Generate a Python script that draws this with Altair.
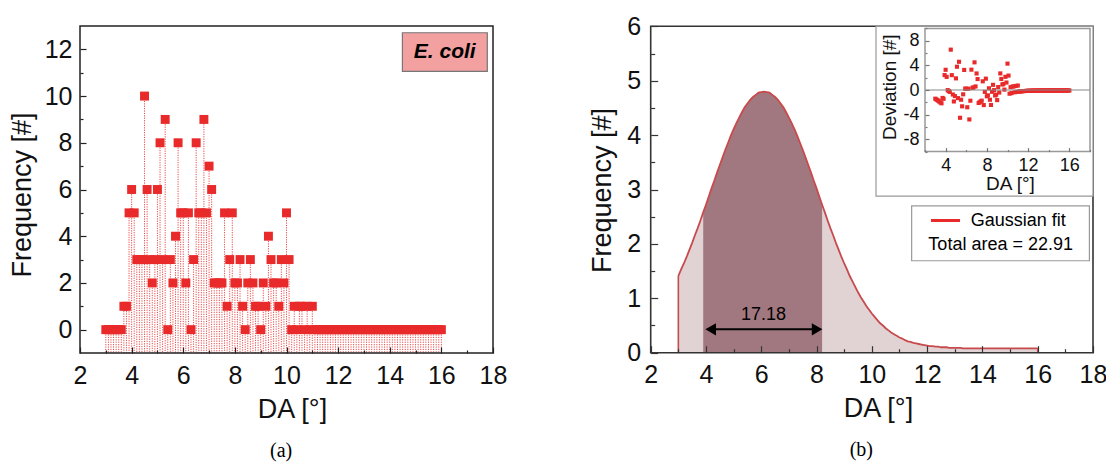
import altair as alt
import pandas as pd

# ---------------- data ----------------
DA = [
    3.0, 3.1, 3.2, 3.3, 3.4, 3.5, 3.6, 3.7, 3.8, 3.9,
    4.0, 4.1, 4.2, 4.3, 4.4, 4.5, 4.6, 4.7, 4.8, 4.9,
    5.0, 5.1, 5.2, 5.3, 5.4, 5.5, 5.6, 5.7, 5.8, 5.9,
    6.0, 6.1, 6.2, 6.3, 6.4, 6.5, 6.6, 6.7, 6.8, 6.9,
    7.0, 7.1, 7.2, 7.3, 7.4, 7.5, 7.6, 7.7, 7.8, 7.9,
    8.0, 8.1, 8.2, 8.3, 8.4, 8.5, 8.6, 8.7, 8.8, 8.9,
    9.0, 9.1, 9.2, 9.3, 9.4, 9.5, 9.6, 9.7, 9.8, 9.9,
    10.0, 10.1, 10.2, 10.3, 10.4, 10.5, 10.6, 10.7, 10.8, 10.9,
    11.0, 11.1, 11.2, 11.3, 11.4, 11.5, 11.6, 11.7, 11.8, 11.9,
    12.0, 12.1, 12.2, 12.3, 12.4, 12.5, 12.6, 12.7, 12.8, 12.9,
    13.0, 13.1, 13.2, 13.3, 13.4, 13.5, 13.6, 13.7, 13.8, 13.9,
    14.0, 14.1, 14.2, 14.3, 14.4, 14.5, 14.6, 14.7, 14.8, 14.9,
    15.0, 15.1, 15.2, 15.3, 15.4, 15.5, 15.6, 15.7, 15.8, 15.9,
    16.0,
]
COUNTS = [
    0, 0, 0, 0, 0, 0, 0, 1, 1, 5,
    6, 5, 3, 3, 3, 10, 6, 3, 2, 3,
    6, 8, 3, 9, 0, 3, 2, 4, 8, 5,
    5, 2, 5, 0, 3, 8, 5, 5, 9, 5,
    7, 6, 2, 2, 2, 2, 5, 1, 3, 5,
    2, 2, 3, 1, 0, 2, 3, 2, 1, 1,
    0, 2, 1, 4, 3, 2, 2, 1, 3, 2,
    5, 3, 0, 1, 0, 1, 1, 0, 1, 0,
    1, 0, 0, 0, 0, 0, 0, 0, 0, 0,
    0, 0, 0, 0, 0, 0, 0, 0, 0, 0,
    0, 0, 0, 0, 0, 0, 0, 0, 0, 0,
    0, 0, 0, 0, 0, 0, 0, 0, 0, 0,
    0, 0, 0, 0, 0, 0, 0, 0, 0, 0,
    0,
]
FIT = [
    1.41, 1.53, 1.64, 1.76, 1.89, 2.02, 2.16, 2.29, 2.43, 2.58,
    2.72, 2.87, 3.02, 3.16, 3.31, 3.45, 3.59, 3.73, 3.86, 3.99,
    4.11, 4.22, 4.32, 4.42, 4.51, 4.58, 4.65, 4.70, 4.74, 4.78,
    4.79, 4.80, 4.79, 4.78, 4.74, 4.70, 4.65, 4.58, 4.51, 4.42,
    4.32, 4.22, 4.11, 3.99, 3.86, 3.73, 3.59, 3.45, 3.31, 3.16,
    3.02, 2.87, 2.72, 2.58, 2.43, 2.29, 2.16, 2.02, 1.89, 1.76,
    1.64, 1.53, 1.41, 1.31, 1.21, 1.11, 1.02, 0.94, 0.86, 0.79,
    0.72, 0.66, 0.60, 0.54, 0.50, 0.45, 0.41, 0.37, 0.34, 0.31,
    0.28, 0.26, 0.23, 0.21, 0.20, 0.18, 0.17, 0.16, 0.15, 0.14,
    0.13, 0.12, 0.12, 0.11, 0.11, 0.10, 0.10, 0.10, 0.09, 0.09,
    0.09, 0.09, 0.09, 0.08, 0.08, 0.08, 0.08, 0.08, 0.08, 0.08,
    0.08, 0.08, 0.08, 0.08, 0.08, 0.08, 0.08, 0.08, 0.08, 0.08,
    0.08, 0.08, 0.08, 0.08, 0.08, 0.08, 0.08, 0.08, 0.08, 0.08,
    0.08,
]
DEVIATION = [
    -1.41, -1.53, -1.64, -1.76, -1.89, -2.02, -2.16, -1.29, -1.43, 2.42,
    3.28, 2.13, -0.02, -0.16, -0.31, 6.55, 2.41, -0.73, -1.86, -0.99,
    1.89, 3.78, -1.32, 4.58, -4.51, -1.58, -2.65, -0.70, 3.26, 0.22,
    0.21, -2.80, 0.21, -4.78, -1.74, 3.30, 0.35, 0.42, 4.49, 0.58,
    2.68, 1.78, -2.11, -1.99, -1.86, -1.73, 1.41, -2.45, -0.31, 1.84,
    -1.02, -0.87, 0.28, -1.58, -2.43, -0.29, 0.84, -0.02, -0.89, -0.76,
    -1.64, 0.47, -0.41, 2.69, 1.79, 0.89, 0.98, 0.06, 2.14, 1.21,
    4.28, 2.34, -0.60, 0.46, -0.50, 0.55, 0.59, -0.37, 0.66, -0.31,
    0.72, -0.26, -0.23, -0.21, -0.20, -0.18, -0.17, -0.16, -0.15, -0.14,
    -0.13, -0.12, -0.12, -0.11, -0.11, -0.10, -0.10, -0.10, -0.09, -0.09,
    -0.09, -0.09, -0.09, -0.08, -0.08, -0.08, -0.08, -0.08, -0.08, -0.08,
    -0.08, -0.08, -0.08, -0.08, -0.08, -0.08, -0.08, -0.08, -0.08, -0.08,
    -0.08, -0.08, -0.08, -0.08, -0.08, -0.08, -0.08, -0.08, -0.08, -0.08,
    -0.08,
]
HIGHLIGHT_FROM, HIGHLIGHT_TO = 3.9, 8.2       # darker shaded band
ARROW_FROM, ARROW_TO, ARROW_Y = 3.95, 8.24, 0.43
BAND_AREA_LABEL = "17.18"
LEGEND_LINES = ["Gaussian fit", "Total area = 22.91"]

X_TICKS = [2, 4, 6, 8, 10, 12, 14, 16, 18]
X_MINOR = list(range(2, 19))
YA_TICKS = [0, 2, 4, 6, 8, 10, 12]
YA_MINOR = list(range(0, 13))
YB_TICKS = [0, 1, 2, 3, 4, 5, 6]
YB_MINOR = [0, 0.5, 1, 1.5, 2, 2.5, 3, 3.5, 4, 4.5, 5, 5.5, 6]
XI_TICKS = [4, 8, 12, 16]
XI_MINOR = [2, 4, 6, 8, 10, 12, 14, 16, 18]
YI_TICKS = [-8, -4, 0, 4, 8]
YI_MINOR = [-10, -8, -6, -4, -2, 0, 2, 4, 6, 8, 10]

df_a = pd.DataFrame({"DA": DA, "count": COUNTS})
df_b = pd.DataFrame({"DA": DA, "fit": FIT})
df_dark = df_b[(df_b["DA"] >= HIGHLIGHT_FROM) & (df_b["DA"] <= HIGHLIGHT_TO + 1e-9)]
df_edges = df_b[df_b["DA"].isin([DA[0], DA[-1]])]
df_dev = pd.DataFrame({"DA": DA, "dev": DEVIATION})
one = pd.DataFrame({"k": [0]})

# ---------------- layout (pixels inside the plot area) ----------------
W, H = 1098, 460
FONT = "Liberation Sans"
RED = "#e92a2a"

def sc(domain, rng):
    return alt.Scale(domain=domain, range=rng, nice=False, zero=False)

XA = lambda: sc([2, 18], [72, 485])
YA = lambda: sc([-1, 13], [345, 18])
XB = lambda: sc([2, 18], [642.7, 1085])
YB = lambda: sc([0, 6], [344.7, 18.3])
XI = lambda: sc([2, 18], [917, 1082])
YI = lambda: sc([-10, 10], [143.6, 20.4])


def ax_bottom(line_y, values, title, tx, ty, lfs, tfs, lpad):
    return alt.Axis(orient="bottom", offset=line_y - H, values=values, ticks=False, tickSize=0,
                    domain=False, grid=False, labelFontSize=lfs, labelPadding=lpad,
                    labelBaseline="alphabetic", labelFlush=False, labelOverlap=False,
                    labelExpr="datum.value + ''", title=title, titleX=tx, titleY=ty,
                    titleAlign="center", titleBaseline="alphabetic", titleFontSize=tfs,
                    titleFontWeight="normal", zindex=4)


def ax_left(line_x, values, title, tx, ty, lfs, tfs, lpad):
    return alt.Axis(orient="left", offset=-line_x, values=values, ticks=False, tickSize=0,
                    domain=False, grid=False, labelFontSize=lfs, labelPadding=lpad,
                    labelAlign="right", labelBaseline="middle", labelFlush=False,
                    labelOverlap=False, labelExpr="datum.value + ''", title=title,
                    titleAngle=270, titleX=tx, titleY=ty, titleAlign="center",
                    titleBaseline="alphabetic", titleFontSize=tfs, titleFontWeight="normal",
                    zindex=4)


def ax_ticks_x(line_y, values, test, big, small, color):
    return alt.Axis(orient="top", offset=-line_y, values=values, labels=False, domain=False,
                    grid=False, title=None, tickColor=color, tickWidth=1.2, zindex=3,
                    tickSize={"condition": {"test": test, "value": big}, "value": small})


def ax_ticks_y(line_x, values, test, big, small, color):
    return alt.Axis(orient="right", offset=line_x - W, values=values, labels=False,
                    domain=False, grid=False, title=None, tickColor=color, tickWidth=1.2,
                    zindex=3,
                    tickSize={"condition": {"test": test, "value": big}, "value": small})


def frame(xs, ys, x0, x1, y0, y1, stroke, sw, fill="white", fo=0.0):
    return alt.Chart(one).mark_rect(fill=fill, fillOpacity=fo, stroke=stroke, strokeWidth=sw).encode(
        x=alt.XDatum(x0, scale=xs(), axis=None), x2=alt.datum(x1),
        y=alt.YDatum(y0, scale=ys(), axis=None), y2=alt.datum(y1))


def label(xs, ys, x, y, text, size, align="center", baseline="middle", font=FONT,
          weight="normal", style="normal", color="black"):
    return alt.Chart(one).mark_text(text=text, fontSize=size, align=align, baseline=baseline,
                                    font=font, fontWeight=weight, fontStyle=style,
                                    color=color).encode(
        x=alt.XDatum(x, scale=xs(), axis=None), y=alt.YDatum(y, scale=ys(), axis=None))


# ---------------- panel (a) ----------------
drops = alt.Chart(df_a).mark_rule(color=RED, strokeDash=[1.2, 1.2], strokeWidth=1, opacity=0.85).encode(
    x=alt.X("DA:Q", scale=XA(), axis=ax_bottom(345, X_TICKS, "DA [°]", 284, 64, 25, 27, 30)),
    y=alt.Y("count:Q", scale=YA(),
            axis=ax_left(72, YA_TICKS, "Frequency [#]", -50, 186.5, 25, 27, 8)),
    y2=alt.datum(-1),
)
squares = alt.Chart(df_a).mark_square(size=80, color=RED, opacity=1).encode(
    x=alt.X("DA:Q", scale=XA(), axis=ax_ticks_x(345, X_MINOR, "datum.value % 2 === 0", 6, 3, "#222")),
    y=alt.Y("count:Q", scale=YA(), axis=ax_ticks_y(72, YA_MINOR, "datum.value % 2 === 0", 6, 3, "#222")),
)
frame_a = frame(XA, YA, 2, 18, -1, 13, "#222", 1.5)
ecoli_box = frame(XA, YA, 14.49, 17.78, 12.71, 11.06, "#777", 1.2, fill="#f2a0a0", fo=1)
ecoli_txt = label(XA, YA, 16.13, 11.88, "E. coli", 21, weight="bold", style="italic")
tag_a = label(XA, YA, 9.79, -5.45, "(a)", 20, baseline="alphabetic", font="Liberation Serif")

# ---------------- panel (b) ----------------
light = alt.Chart(df_b).mark_area(color="#e1d2d4", opacity=1).encode(
    x=alt.X("DA:Q", scale=XB(), axis=ax_bottom(344.7, X_TICKS, "DA [°]", 870, 64, 25, 27, 30)),
    y=alt.Y("fit:Q", scale=YB(),
            axis=ax_left(642.7, YB_TICKS, "Frequency [#]", -40, 182, 25, 27, 10)),
)
dark = alt.Chart(df_dark).mark_area(color="#a27880", opacity=1).encode(
    x=alt.X("DA:Q", scale=XB(), axis=ax_ticks_x(344.7, X_MINOR, "datum.value % 2 === 0", 7, 4, "#333")),
    y=alt.Y("fit:Q", scale=YB(), axis=ax_ticks_y(642.7, YB_MINOR, "datum.value % 1 === 0", 7, 4, "#333")),
)
curve = alt.Chart(df_b).mark_line(color="#c84a4c", strokeWidth=1.8).encode(
    x=alt.X("DA:Q", scale=XB(), axis=None),
    y=alt.Y("fit:Q", scale=YB(), axis=None),
)
edges = alt.Chart(df_edges).mark_rule(color="#c84a4c", strokeWidth=1.6).encode(
    x=alt.X("DA:Q", scale=XB(), axis=None),
    y=alt.Y("fit:Q", scale=YB(), axis=None),
    y2=alt.datum(0),
)
frame_b = frame(XB, YB, 2, 18, 0, 6, "#333", 1.6)
arrow_line = alt.Chart(one).mark_rule(color="black", strokeWidth=2).encode(
    x=alt.XDatum(ARROW_FROM + 0.15, scale=XB(), axis=None), x2=alt.datum(ARROW_TO - 0.15),
    y=alt.YDatum(ARROW_Y, scale=YB(), axis=None),
)
head_l = alt.Chart(one).mark_point(shape="triangle-left", size=150, filled=True, color="black",
                                   opacity=1).encode(
    x=alt.XDatum(ARROW_FROM + 0.22, scale=XB(), axis=None),
    y=alt.YDatum(ARROW_Y, scale=YB(), axis=None))
head_r = alt.Chart(one).mark_point(shape="triangle-right", size=150, filled=True, color="black",
                                   opacity=1).encode(
    x=alt.XDatum(ARROW_TO - 0.22, scale=XB(), axis=None),
    y=alt.YDatum(ARROW_Y, scale=YB(), axis=None))
area_txt = label(XB, YB, 6.08, 0.60, BAND_AREA_LABEL, 18, baseline="alphabetic")
tag_b = label(XB, YB, 9.62, -1.90, "(b)", 20, baseline="alphabetic", font="Liberation Serif")

# inset
inset_box = frame(XB, YB, 10.15, 18, 2.88, 6, "#999", 1.2, fill="white", fo=1)
dev_pts = alt.Chart(df_dev).mark_square(size=17, color=RED, opacity=1).encode(
    x=alt.X("DA:Q", scale=XI(), axis=ax_bottom(143.6, XI_TICKS, "DA [°]", 1002, 38, 18, 19, 19)),
    y=alt.Y("dev:Q", scale=YI(),
            axis=ax_left(917, YI_TICKS, "Deviation [#]", -30, 78.7, 18, 19, 6)),
)
zero_line = alt.Chart(one).mark_rule(color="#888", strokeWidth=1.2).encode(
    x=alt.XDatum(2, scale=XI(), axis=ax_ticks_x(143.6, XI_MINOR, "datum.value % 4 === 0", 4, 2, "#777")),
    x2=alt.datum(18),
    y=alt.YDatum(0, scale=YI(), axis=ax_ticks_y(917, YI_MINOR, "datum.value % 4 === 0", 4, 2, "#777")),
)
frame_i = frame(XI, YI, 2, 18, -10, 10, "#999", 1.5)

# legend
legend_box = frame(XB, YB, 11.44, 17.87, 2.70, 1.69, "#999", 1.2, fill="white", fo=1)
legend_line = alt.Chart(one).mark_rule(color=RED, strokeWidth=3).encode(
    x=alt.XDatum(12.14, scale=XB(), axis=None), x2=alt.datum(13.19),
    y=alt.YDatum(2.43, scale=YB(), axis=None))
legend_t1 = label(XB, YB, 13.58, 2.43, LEGEND_LINES[0], 18, align="left")
legend_t2 = label(XB, YB, 14.66, 1.98, LEGEND_LINES[1], 18)

chart = alt.layer(
    drops, squares, frame_a, ecoli_box, ecoli_txt, tag_a,
    light, dark, curve, edges, frame_b, arrow_line, head_l, head_r, area_txt, tag_b,
    inset_box, dev_pts, zero_line, frame_i,
    legend_box, legend_line, legend_t1, legend_t2,
).resolve_scale(x="independent", y="independent").resolve_axis(
    x="independent", y="independent"
).properties(
    width=W, height=H, padding=0, autosize=alt.AutoSizeParams(type="none"), background="white"
).configure_view(stroke=None).configure_axis(
    labelFont=FONT, titleFont=FONT, labelColor="#111", titleColor="#111"
)

chart.save("out.html", embed_options={"renderer": "svg", "actions": False})
